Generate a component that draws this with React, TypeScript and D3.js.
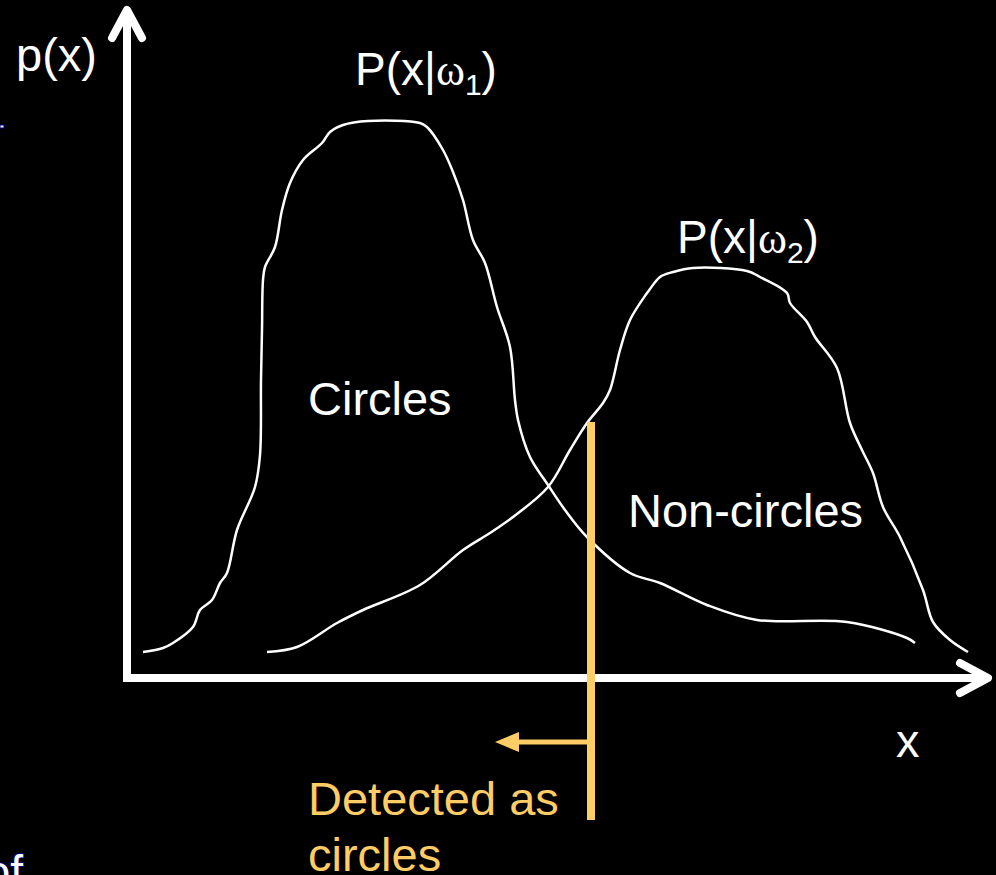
import * as d3 from 'd3'
import React, { useEffect, useRef } from 'react'

// Class-conditional densities
// x in axis units (0 = origin), y in density units (0 = x axis)
const circlesX = [1.6, 3.6, 4.6, 6.6, 7.3, 8.5, 9.3, 10.0, 11.0, 12.8, 13.3, 13.4, 13.5, 13.6, 13.8, 14.8, 15.5, 16.3, 17.6, 19.5, 20.3, 21.6, 24.1, 29.3, 30.0, 31.6, 32.6, 33.6, 34.6, 35.8, 37.0, 38.3, 38.8, 39.1, 40.3, 42.1, 43.8, 46.0, 50.3, 53.3, 58.0, 63.0, 72.0, 78.0, 78.8]
const circlesY = [2.6, 3.0, 3.5, 5.1, 6.8, 7.8, 9.5, 10.5, 14.8, 19.1, 22.3, 29.8, 34.8, 39.8, 41.1, 43.1, 46.8, 49.5, 51.8, 53.5, 54.6, 55.3, 55.7, 55.5, 55.1, 52.8, 50.6, 47.8, 43.8, 41.5, 37.1, 33.1, 27.8, 25.8, 22.1, 19.3, 16.8, 14.1, 10.5, 9.5, 7.3, 5.8, 5.6, 4.0, 3.5]

const nonCirclesX = [14.0, 17.0, 21.0, 23.6, 29.3, 33.6, 36.3, 38.6, 42.1, 44.3, 46.0, 47.6, 48.3, 49.3, 50.3, 52.0, 52.3, 53.3, 54.6, 56.6, 62.0, 63.3, 66.0, 66.3, 68.0, 68.8, 71.0, 72.3, 73.5, 74.6, 75.6, 77.3, 79.6, 80.6, 82.3, 84.1]
const nonCirclesY = [2.6, 3.1, 5.5, 6.8, 9.3, 12.8, 14.5, 16.1, 19.1, 22.8, 25.5, 27.5, 28.8, 32.8, 35.8, 38.5, 38.9, 40.1, 40.6, 41.0, 40.7, 40.1, 38.5, 37.5, 35.6, 34.1, 31.0, 25.5, 22.8, 20.5, 17.1, 14.1, 8.8, 5.6, 3.8, 2.6]

// Decision threshold
const threshold = 46.4
const thresholdTop = 25.6
const thresholdBottom = -14.2
const arrowY = -6.4
const arrowTo = 36.8

const xMax = 86.3
const yMax = 67

const App = () => {
    const myRef = useRef<SVGSVGElement>(null)

    const w = 996
    const h = 875
    const origin = { x: 127, y: 678 }

    useEffect(() => {
        document.body.style.margin = '0'
        document.body.style.background = '#000'
        drawChart()
    }, [])

    function drawChart() {
        const svg = d3.select(myRef.current)
        svg.selectAll('*').remove()

        const x = d3.scaleLinear().domain([0, xMax]).range([origin.x, origin.x + xMax * 10])
        const y = d3.scaleLinear().domain([0, yMax]).range([origin.y, origin.y - yMax * 10])

        svg.append('rect')
            .attr('width', w)
            .attr('height', h)
            .attr('fill', '#000')

        // Axes with open arrow heads
        const white = '#ffffff'
        const axisW = 8
        svg.append('line')
            .attr('x1', x(0)).attr('y1', y(0))
            .attr('x2', x(0)).attr('y2', y(yMax) + 2)
            .attr('stroke', white).attr('stroke-width', axisW)
        svg.append('path')
            .attr('d', `M${x(0) - 15},${y(yMax) + 30}L${x(0)},${y(yMax) + 2}L${x(0) + 15},${y(yMax) + 30}`)
            .attr('fill', 'none').attr('stroke', white).attr('stroke-width', axisW)
            .attr('stroke-linecap', 'round').attr('stroke-linejoin', 'round')

        svg.append('line')
            .attr('x1', x(0) - 4).attr('y1', y(0))
            .attr('x2', x(xMax) - 2).attr('y2', y(0))
            .attr('stroke', white).attr('stroke-width', axisW)
        svg.append('path')
            .attr('d', `M${x(xMax) - 30},${y(0) - 15}L${x(xMax) - 2},${y(0)}L${x(xMax) - 30},${y(0) + 15}`)
            .attr('fill', 'none').attr('stroke', white).attr('stroke-width', axisW)
            .attr('stroke-linecap', 'round').attr('stroke-linejoin', 'round')

        // Density curves
        const line = d3.line<number>()
            .x((d) => x(d[0]))
            .y((d) => y(d[1]))
            .curve(d3.curveCatmullRom.alpha(0.5))

        const series = [
            d3.zip(circlesX, circlesY),
            d3.zip(nonCirclesX, nonCirclesY),
        ]
        svg.selectAll('path.curve')
            .data(series)
            .enter()
            .append('path')
            .attr('class', 'curve')
            .attr('d', (d: any) => line(d))
            .attr('fill', 'none')
            .attr('stroke', white)
            .attr('stroke-width', 2.5)
            .attr('stroke-linejoin', 'round')

        // Threshold and arrow
        const orange = '#ffcc66'
        svg.append('line')
            .attr('x1', x(threshold)).attr('y1', y(thresholdTop))
            .attr('x2', x(threshold)).attr('y2', y(thresholdBottom))
            .attr('stroke', orange).attr('stroke-width', 8)
        svg.append('line')
            .attr('x1', x(threshold)).attr('y1', y(arrowY))
            .attr('x2', x(arrowTo) + 20).attr('y2', y(arrowY))
            .attr('stroke', orange).attr('stroke-width', 5)
        svg.append('path')
            .attr('d', `M${x(arrowTo)},${y(arrowY)}L${x(arrowTo) + 24},${y(arrowY) - 10}L${x(arrowTo) + 24},${y(arrowY) + 10}Z`)
            .attr('fill', orange)

        // Text
        const font = '"Liberation Sans", Arial, sans-serif'
        const label = (tx: number, ty: number, text: string, color = white) =>
            svg.append('text')
                .attr('x', tx).attr('y', ty)
                .attr('fill', color)
                .style('font-family', font)
                .style('font-size', '47px')
                .text(text)

        label(16, 71, 'p(x)')
        label(308, 415, 'Circles')
        label(628, 527, 'Non-circles')
        label(896, 757, 'x')
        label(308, 815, 'Detected as', orange)
        label(308, 871, 'circles', orange)

        const cond = (tx: number, ty: number, sub: string) => {
            const t = svg.append('text')
                .attr('x', tx).attr('y', ty)
                .attr('fill', white)
                .style('font-family', font)
                .style('font-size', '46px')
            t.append('tspan').text('P(x|')
            t.append('tspan').style('font-family', '"Liberation Serif", serif').style('font-size', '44px').text('ω')
            t.append('tspan').attr('dy', 10).style('font-size', '30px').text(sub)
            t.append('tspan').attr('dy', -10).text(')')
        }
        cond(355, 85, '1')
        cond(677, 253, '2')

        // Fragments of the slide text cut at the left edge
        svg.append('text')
            .attr('x', 23).attr('y', 888)
            .attr('text-anchor', 'end')
            .attr('fill', white)
            .style('font-family', font)
            .style('font-size', '46px')
            .style('paint-order', 'stroke')
            .attr('stroke', '#000080').attr('stroke-width', 2)
            .text('of')
        svg.append('rect')
            .attr('x', 0).attr('y', 125).attr('width', 4).attr('height', 3)
            .attr('fill', white)
            .attr('stroke', '#000080').attr('stroke-width', 1)
    }

    return <svg ref={myRef} width={w} height={h} style={{ display: 'block' }} />
}

export default App
